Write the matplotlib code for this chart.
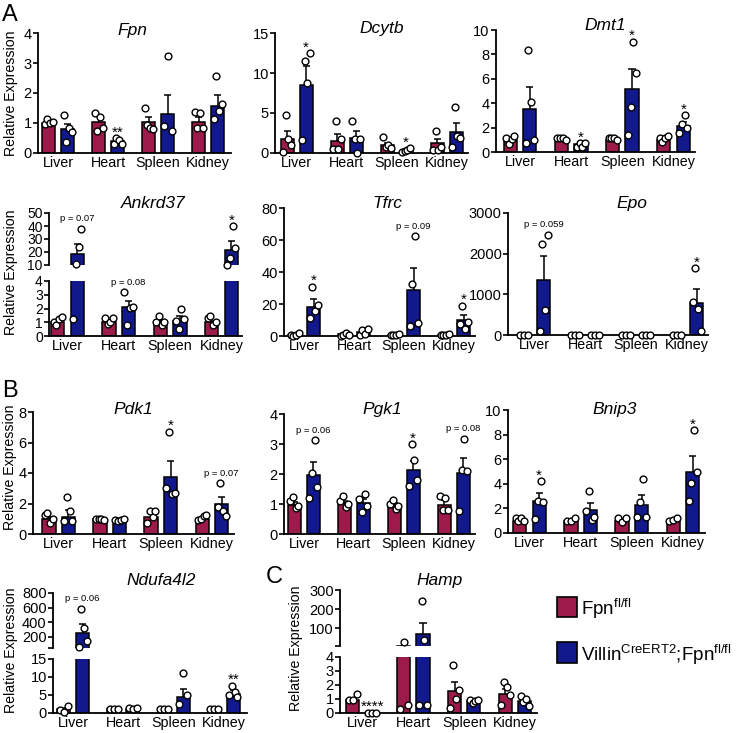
import matplotlib.pyplot as plt
import numpy as np
from matplotlib.patches import Rectangle

plt.rcParams['font.family'] = ['Liberation Sans', 'DejaVu Sans']
plt.rcParams['mathtext.fontset'] = 'custom'
plt.rcParams['mathtext.rm'] = 'Liberation Sans'
plt.rcParams['mathtext.it'] = 'Liberation Sans:italic'

tissues = ['Liver', 'Heart', 'Spleen', 'Kidney']
genotypes = [r'Fpn$^{\mathrm{fl/fl}}$', r'Villin$^{\mathrm{CreERT2}}$;Fpn$^{\mathrm{fl/fl}}$']
colors = ['#9c1b4b', '#12198c']

# each gene: mean / sem as [control, villin-cre] x tissue, pts per bar, marks on the cre bars
fpn_mean = [[1.0, 1.02, 1.02, 1.02], [0.8, 0.39, 1.3, 1.58]]
fpn_sem = [[0.04, 0.2, 0.18, 0.18], [0.18, 0.06, 0.65, 0.35]]
fpn_pts = [[[0.98, 1.12, 1.0, 1.02], [1.33, 0.72, 1.2, 0.82], [1.5, 0.95, 0.85, 0.8], [1.38, 0.85, 1.33, 0.85]],
           [[1.28, 0.37, 0.85, 0.7], [0.3, 0.5, 0.45, 0.3], [0.9, 3.22, 0.75], [1.13, 2.58, 1.4, 1.65]]]
fpn_marks = [(1, '**')]

dcytb_mean = [[1.7, 1.55, 0.95, 1.2], [8.5, 1.9, 0.3, 2.65]]
dcytb_sem = [[1.1, 0.85, 0.3, 0.6], [2.4, 0.9, 0.12, 1.15]]
dcytb_pts = [[[0.1, 4.7, 1.7, 1.0], [0.5, 4.0, 0.5, 1.7], [2.0, 0.8, 0.95, 0.6], [0.4, 2.8, 0.4, 0.8]],
             [[1.6, 11.5, 8.8, 12.5], [4.0, 1.75, 0.0, 1.7], [0.1, 0.2, 0.4, 0.6], [0.8, 5.8, 2.1, 1.9]]]
dcytb_marks = [(0, '*'), (2, '*')]

dmt1_mean = [[0.95, 0.95, 0.95, 0.95], [3.5, 0.62, 5.15, 2.15]]
dmt1_sem = [[0.12, 0.05, 0.06, 0.1], [1.8, 0.1, 1.65, 0.35]]
dmt1_pts = [[[1.15, 0.65, 1.1, 1.3], [1.15, 1.15, 1.15, 0.95], [1.15, 1.15, 1.15, 0.95], [1.15, 0.8, 1.15, 1.35]],
            [[0.7, 8.4, 4.1, 0.95], [0.45, 0.73, 0.4, 0.73], [1.4, 3.7, 9.05, 6.5], [1.55, 2.3, 3.0, 1.95]]]
dmt1_marks = [(1, '*'), (2, '*'), (3, '*')]

ankrd37_mean = [[1.0, 1.0, 1.0, 1.0], [18.4, 2.1, 1.12, 21.6]]
ankrd37_sem = [[0.15, 0.1, 0.15, 0.12], [8.0, 0.45, 0.35, 6.6]]
ankrd37_pts = [[[1.0, 0.77, 1.24, 1.4], [1.3, 0.9, 1.0, 1.3], [1.0, 1.45, 0.8, 1.0], [1.3, 1.45, 0.8, 1.0]],
               [[1.24, 10.5, 24.0, 38.0], [3.18, 0.82, 2.06, 2.13], [1.12, 0.5, 2.0, 1.24], [10.0, 15.4, 40.0, 22.8]]]
ankrd37_marks = [(0, 'p = 0.07'), (1, 'p = 0.08'), (3, '*')]

tfrc_mean = [[0.7, 1.0, 0.8, 0.7], [18.0, 2.5, 28.5, 9.8]]
tfrc_sem = [[0.3, 0.3, 0.2, 0.2], [5.0, 1.0, 14.0, 3.5]]
tfrc_pts = [[[0.5, 0.2, 0.4, 1.8], [0.3, 0.5, 1.8, 0.8], [0.6, 0.8, 0.7, 1.0], [0.5, 0.6, 0.4, 1.0]],
            [[11.5, 30.8, 15.5, 19.5], [0.8, 3.7, 1.5, 4.5], [6.4, 32.2, 62.4, 7.9], [7.5, 18.9, 4.4, 9.0]]]
tfrc_marks = [(0, '*'), (2, 'p = 0.09'), (3, '*')]

epo_mean = [[0, 0, 0, 0], [1360, 0, 0, 790]]
epo_sem = [[0, 0, 0, 0], [580, 0, 0, 340]]
epo_pts = [[[0, 0, 0], [0, 0, 0], [0, 0, 0], [0, 0, 0]],
           [[107, 2246, 623, 2467], [0, 0, 0], [0, 0, 0], [800, 1650, 650, 107]]]
epo_marks = [(0, 'p = 0.059'), (3, '*')]

pdk1_mean = [[1.0, 1.0, 1.1, 1.0], [1.1, 0.9, 3.76, 1.95]]
pdk1_sem = [[0.13, 0.03, 0.18, 0.08], [0.45, 0.04, 1.0, 0.45]]
pdk1_pts = [[[1.26, 1.37, 0.72, 1.0], [1.0, 1.0, 1.0, 0.95], [0.72, 1.48, 1.1, 1.48], [0.95, 1.0, 1.15, 1.26]],
            [[0.83, 2.43, 1.48, 0.83], [0.9, 0.85, 0.9, 1.0], [3.0, 6.7, 2.65, 2.7], [1.8, 3.33, 1.48, 1.2]]]
pdk1_marks = [(2, '*'), (3, 'p = 0.07')]

pgk1_mean = [[0.98, 1.03, 0.98, 0.98], [1.96, 1.03, 2.12, 2.03]]
pgk1_sem = [[0.08, 0.07, 0.06, 0.16], [0.44, 0.13, 0.33, 0.5]]
pgk1_pts = [[[1.1, 1.23, 0.87, 0.95], [1.1, 1.26, 0.9, 1.0], [1.0, 1.15, 0.85, 0.95], [1.28, 0.81, 1.2, 0.81]],
            [[1.2, 2.02, 3.12, 1.56], [1.18, 0.73, 1.34, 0.95], [1.59, 3.0, 2.46, 1.81], [0.76, 2.14, 3.17, 2.09]]]
pgk1_marks = [(0, 'p = 0.06'), (2, '*'), (3, 'p = 0.08')]

bnip3_mean = [[0.95, 0.95, 0.95, 0.95], [2.62, 1.9, 2.3, 4.95]]
bnip3_sem = [[0.1, 0.08, 0.1, 0.07], [0.62, 0.55, 0.75, 1.3]]
bnip3_pts = [[[1.2, 0.95, 1.2, 1.0], [1.0, 0.95, 1.2], [1.2, 0.9, 1.25], [1.0, 1.05, 1.25]],
             [[1.16, 2.62, 4.24, 2.5], [1.76, 3.43, 1.08, 1.3], [1.27, 2.5, 4.38, 1.27], [2.57, 4.05, 8.38, 5.0]]]
bnip3_marks = [(0, '*'), (3, '*')]

ndufa4l2_mean = [[1.0, 1.0, 1.0, 1.0], [255, 1.2, 4.5, 5.15]]
ndufa4l2_sem = [[0.5, 0, 0, 0], [127, 0.2, 2.15, 1.2]]
ndufa4l2_pts = [[[0.8, 0.2, 1.9], [1.0, 1.0, 1.0], [1.0, 1.0, 1.0], [1.0, 1.0, 1.1]],
                [[64, 582, 323, 141], [1.4, 1.0, 1.5], [2.6, 11.0, 5.0], [5.0, 7.6, 5.9, 4.5]]]
ndufa4l2_marks = [(0, 'p = 0.06'), (3, '**')]

hamp_mean = [[0.9, 10.3, 1.57, 1.38], [0.03, 69, 0.83, 0.85]]
hamp_sem = [[0.15, 0, 0.65, 0.35], [0, 58, 0.1, 0.15]]
hamp_pts = [[[0.95, 0.9, 1.35], [0.3, 30, 0.55], [0.36, 3.4, 1.0, 1.67], [0.55, 2.2, 1.86, 1.26]],
            [[0.0, 0.0, 0.0], [0.55, 243, 39, 0.55], [0.95, 0.75, 0.85, 0.9], [1.2, 0.8, 1.0, 0.5]]]
hamp_marks = [(0, '****')]

W, H = 745, 733
fig = plt.figure(figsize=(W / 100, H / 100), dpi=100)
off = [-0.19, 0.19]


def px(x, y):
    return x / W, 1 - y / H


def make_ax(x0, y0, x1, y1, xlim, ylim, yticks, ylabels=None, xaxis=True, tsize=10.5):
    ax = fig.add_axes([x0 / W, 1 - y1 / H, (x1 - x0) / W, (y1 - y0) / H])
    ax.set_xlim(*xlim)
    ax.set_ylim(*ylim)
    ax.set_yticks(yticks)
    if ylabels is not None:
        ax.set_yticklabels(ylabels)
    for s in ['top', 'right']:
        ax.spines[s].set_visible(False)
    for s in ['left', 'bottom']:
        ax.spines[s].set_linewidth(1.3)
    ax.tick_params(axis='y', direction='out', length=3.5, width=1.2, labelsize=tsize, pad=1)
    if xaxis:
        ax.set_xticks(range(4))
        ax.set_xticklabels(tissues)
        ax.tick_params(axis='x', length=0, labelsize=10.3, pad=2)
    else:
        ax.spines['bottom'].set_visible(False)
        ax.set_xticks([])
    return ax


def draw(axs, mean, sem, pts, marks):
    for ax in axs:
        lo, hi = ax.get_ylim()
        for g in range(2):
            x = np.arange(4) + off[g]
            m = np.array(mean[g], dtype=float)
            e = m + np.array(sem[g], dtype=float)
            ax.bar(x, m, width=0.26, color=colors[g], edgecolor='k', linewidth=1.1, zorder=2)
            ax.vlines(x, m, e, color='k', linewidth=1.1, zorder=3)
            ax.hlines(e, x - 0.07, x + 0.07, color='k', linewidth=1.1, zorder=3)
            for t in range(4):
                p = np.array(pts[g][t], dtype=float)
                jit = np.linspace(-0.08, 0.08, len(p))
                keep = (p >= lo) & (p <= hi)
                ax.scatter(x[t] + jit[keep], p[keep], s=24, facecolor='white', edgecolor='k',
                           linewidth=1.0, zorder=4, clip_on=False)
    for t, lab in marks:
        ytop = max(max(pts[1][t]), mean[1][t] + sem[1][t])
        ax = axs[-1] if ytop <= axs[-1].get_ylim()[1] else axs[0]
        if lab.startswith('p'):
            ax.annotate(lab, (t + off[1], ytop), xytext=(0, 4), textcoords='offset points',
                        ha='center', va='bottom', fontsize=6.8, annotation_clip=False)
        else:
            ax.annotate(lab, (t + off[1], ytop), xytext=(0, 4), textcoords='offset points',
                        ha='center', va='center', fontsize=11, annotation_clip=False)


def title(x, y, name):
    fig.text(*px(x, y), name, style='italic', fontsize=12.5, ha='center', va='baseline')


def ylabel(x, y):
    fig.text(*px(x, y), 'Relative Expression', rotation=90, fontsize=10.2, ha='center', va='center')


# row 1
ax = make_ax(38, 33, 231, 153, (-0.4, 3.46), (0, 4), [0, 1, 2, 3, 4])
draw([ax], fpn_mean, fpn_sem, fpn_pts, fpn_marks)
title(132, 35, 'Fpn')
ylabel(11, 93)

ax = make_ax(275, 33, 468, 153, (-0.43, 3.43), (0, 15), [0, 5, 10, 15])
draw([ax], dcytb_mean, dcytb_sem, dcytb_pts, dcytb_marks)
title(382, 33, 'Dcytb')

ax = make_ax(496, 30, 695, 152, (-0.47, 3.42), (0, 10), [0, 2, 4, 6, 8, 10])
draw([ax], dmt1_mean, dmt1_sem, dmt1_pts, dmt1_marks)
title(605, 30, 'Dmt1')

# row 2
top = make_ax(49, 213, 242, 265, (-0.36, 3.40), (10, 50), [10, 20, 30, 40, 50], xaxis=False, tsize=10)
bot = make_ax(49, 281, 242, 336, (-0.36, 3.40), (0, 4), [0, 1, 2, 3, 4], tsize=10)
draw([top, bot], ankrd37_mean, ankrd37_sem, ankrd37_pts, ankrd37_marks)
title(153, 208, 'Ankrd37')
ylabel(11, 272)

ax = make_ax(284, 208, 475, 336, (-0.4, 3.42), (0, 80), [0, 20, 40, 60, 80])
draw([ax], tfrc_mean, tfrc_sem, tfrc_pts, tfrc_marks)
title(387, 208, 'Tfrc')

ax = make_ax(508, 213, 708, 335, (-0.51, 3.41), (0, 3000), [0, 1000, 2000, 3000])
draw([ax], epo_mean, epo_sem, epo_pts, epo_marks)
title(632, 208, 'Epo')

# row 3
ax = make_ax(33, 412, 234, 534, (-0.5, 3.43), (0, 8), [0, 2, 4, 6, 8])
draw([ax], pdk1_mean, pdk1_sem, pdk1_pts, pdk1_marks)
title(133, 414, 'Pdk1')
ylabel(10, 467)

ax = make_ax(284, 414, 475, 534, (-0.4, 3.43), (0, 4), [0, 1, 2, 3, 4])
draw([ax], pgk1_mean, pgk1_sem, pgk1_pts, pgk1_marks)
title(382, 414, 'Pgk1')

ax = make_ax(508, 410, 705, 533, (-0.42, 3.43), (0, 10), [0, 2, 4, 6, 8, 10])
draw([ax], bnip3_mean, bnip3_sem, bnip3_pts, bnip3_marks)
title(615, 414, 'Bnip3')

# row 4
top = make_ax(53, 593, 247, 648, (-0.4, 3.46), (50, 800), [50, 200, 400, 600, 800],
              ['', '200', '400', '600', '800'], xaxis=False)
bot = make_ax(53, 659, 247, 713, (-0.4, 3.46), (0, 15), [0, 5, 10, 15])
draw([top, bot], ndufa4l2_mean, ndufa4l2_sem, ndufa4l2_pts, ndufa4l2_marks)
title(161, 585, 'Ndufa4l2')
ylabel(11, 650)

top = make_ax(340, 590, 537, 646, (-0.44, 3.43), (8, 300), [8, 100, 200, 300],
              ['', '100', '200', '300'], xaxis=False)
bot = make_ax(340, 657, 537, 713, (-0.44, 3.43), (0, 4), [0, 1, 2, 3, 4])
draw([top, bot], hamp_mean, hamp_sem, hamp_pts, hamp_marks)
title(440, 585, 'Hamp')
ylabel(296, 648)

# panel letters
fig.text(*px(2, 21), 'A', fontsize=17, va='baseline')
fig.text(*px(2, 397), 'B', fontsize=17, va='baseline')
fig.text(*px(266, 583), 'C', fontsize=17, va='baseline')

# legend
for (x0, y0, w, h), c, lab in zip([(557, 597, 20, 20), (557, 642, 20, 21)], colors, genotypes):
    fig.add_artist(Rectangle(px(x0, y0 + h), w / W, h / H, transform=fig.transFigure,
                             facecolor=c, edgecolor='k', linewidth=1.2))
    fig.text(*px(x0 + 24, y0 + h - 2), lab, fontsize=13.5, va='baseline')

fig.savefig('out.png', dpi=100)
